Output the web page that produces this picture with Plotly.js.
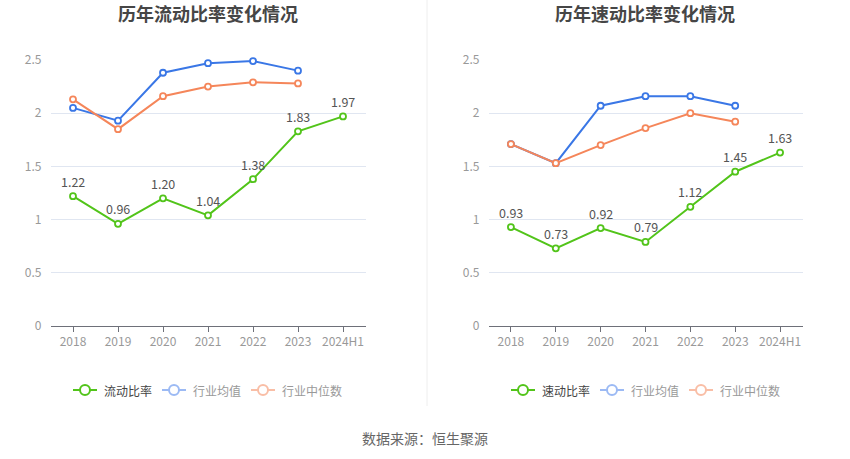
<!DOCTYPE html>
<html>
<head>
<meta charset="utf-8">
<script src="https://cdn.plot.ly/plotly-3.0.1.min.js"></script>
<style>html,body{margin:0;padding:0;background:#fff}#chart{width:850px;height:459px}</style>
</head>
<body>
<div id="chart"></div>
<script>
const years = ['2018','2019','2020','2021','2022','2023','2024H1'];
const industryYears = ['2018','2019','2020','2021','2022','2023'];
const currentRatio = [1.22, 0.96, 1.20, 1.04, 1.38, 1.83, 1.97];
const currentMean = [2.05, 1.93, 2.38, 2.47, 2.49, 2.40];
const currentMedian = [2.13, 1.85, 2.16, 2.25, 2.29, 2.28];
const quickRatio = [0.93, 0.73, 0.92, 0.79, 1.12, 1.45, 1.63];
const quickMean = [1.71, 1.53, 2.07, 2.16, 2.16, 2.07];
const quickMedian = [1.71, 1.53, 1.70, 1.86, 2.00, 1.92];
const yTicks = [0, 0.5, 1, 1.5, 2, 2.5];
const yTickText = ['0', '0.5', '1', '1.5', '2', '2.5'];

const W = 850, H = 459;
const px = x => x / W;
const py = y => 1 - y / H;
const FONT = 'Noto Sans CJK SC, sans-serif';
const GREEN = '#52c41a', BLUE = '#3a77e6', ORANGE = '#f5865a';
const BLUE_L = '#9cbaf4', ORANGE_L = '#f9bea6';

function line(x, y, color, xa, ya, name) {
  return {
    x: x, y: y, xaxis: xa, yaxis: ya, name: name,
    type: 'scatter', mode: 'lines+markers',
    line: {color: color, width: 2},
    marker: {symbol: 'circle', size: 6, color: '#fff', line: {color: color, width: 1.8}},
    showlegend: false, hoverinfo: 'x+y', cliponaxis: false
  };
}

const data = [
  line(industryYears, currentMean, BLUE, 'x', 'y', '行业均值'),
  line(industryYears, currentMedian, ORANGE, 'x', 'y', '行业中位数'),
  line(years, currentRatio, GREEN, 'x', 'y', '流动比率'),
  line(industryYears, quickMean, BLUE, 'x2', 'y2', '行业均值'),
  line(industryYears, quickMedian, ORANGE, 'x2', 'y2', '行业中位数'),
  line(years, quickRatio, GREEN, 'x2', 'y2', '速动比率')
];

function xaxis(domain) {
  return {
    domain: domain, type: 'category', categoryorder: 'array', categoryarray: years,
    range: [-0.5, 6.5], showgrid: false, zeroline: false,
    showline: true, linecolor: '#6e7079', linewidth: 1,
    ticks: 'outside', ticklen: 5, tickcolor: '#6e7079',
    tickfont: {family: FONT, size: 12, color: '#999'}, fixedrange: true
  };
}
function yaxis(domain, anchor) {
  return {
    domain: domain, anchor: anchor, range: [0, 2.5], tickvals: yTicks, ticktext: yTickText,
    showgrid: true, gridcolor: '#e0e6f1', gridwidth: 1, zeroline: false, showline: false,
    ticks: '', ticklabelstandoff: 8,
    tickfont: {family: FONT, size: 12, color: '#999'}, fixedrange: true
  };
}

const yDom = [py(326), py(60)];
const shapes = [
  {type: 'line', xref: 'paper', yref: 'paper', x0: px(427), x1: px(427), y0: py(0), y1: py(406),
   line: {color: '#eeeeee', width: 1}}
];
const annotations = [
  {text: '<b>历年流动比率变化情况</b>', xref: 'paper', yref: 'paper', x: px(207.5), y: py(13),
   xanchor: 'center', yanchor: 'middle', showarrow: false, font: {family: FONT, size: 18, color: '#464646'}},
  {text: '<b>历年速动比率变化情况</b>', xref: 'paper', yref: 'paper', x: px(645), y: py(13),
   xanchor: 'center', yanchor: 'middle', showarrow: false, font: {family: FONT, size: 18, color: '#464646'}},
  {text: '数据来源：恒生聚源', xref: 'paper', yref: 'paper', x: px(425), y: py(438),
   xanchor: 'center', yanchor: 'middle', showarrow: false, font: {family: FONT, size: 14, color: '#666'}}
];

function labels(x, y, xa, ya) {
  x.forEach((c, i) => annotations.push({
    text: y[i].toFixed(2), x: years.indexOf(c), y: y[i], xref: xa, yref: ya, yshift: 15,
    xanchor: 'center', yanchor: 'middle', showarrow: false,
    font: {family: FONT, size: 12.5, color: '#555'}
  }));
}
labels(years, currentRatio, 'x', 'y');
labels(years, quickRatio, 'x2', 'y2');

function legendItem(x0, color, label, textColor) {
  const cy = 390;
  shapes.push({type: 'line', xref: 'paper', yref: 'paper', x0: px(x0), x1: px(x0 + 24), y0: py(cy), y1: py(cy),
    line: {color: color, width: 2}});
  shapes.push({type: 'circle', xref: 'paper', yref: 'paper', x0: px(x0 + 12 - 5), x1: px(x0 + 12 + 5),
    y0: py(cy + 5), y1: py(cy - 5), fillcolor: '#fff', line: {color: color, width: 2}});
  annotations.push({text: label, xref: 'paper', yref: 'paper', x: px(x0 + 29), y: py(cy),
    xanchor: 'left', yanchor: 'middle', showarrow: false, font: {family: FONT, size: 12, color: textColor}});
}
legendItem(73, GREEN, '流动比率', '#444');
legendItem(162, BLUE_L, '行业均值', '#999');
legendItem(251, ORANGE_L, '行业中位数', '#999');
legendItem(511, GREEN, '速动比率', '#444');
legendItem(600, BLUE_L, '行业均值', '#999');
legendItem(689, ORANGE_L, '行业中位数', '#999');

const layout = {
  width: W, height: H, margin: {l: 0, r: 0, t: 0, b: 0},
  paper_bgcolor: '#fff', plot_bgcolor: '#fff', showlegend: false,
  xaxis: Object.assign(xaxis([px(50.5), px(365.5)]), {anchor: 'y'}),
  yaxis: yaxis(yDom, 'x'),
  xaxis2: Object.assign(xaxis([px(488.5), px(802.5)]), {anchor: 'y2'}),
  yaxis2: yaxis(yDom, 'x2'),
  shapes: shapes, annotations: annotations,
  font: {family: FONT}
};

Plotly.newPlot('chart', data, layout, {displayModeBar: false, staticPlot: true});
</script>
</body>
</html>
